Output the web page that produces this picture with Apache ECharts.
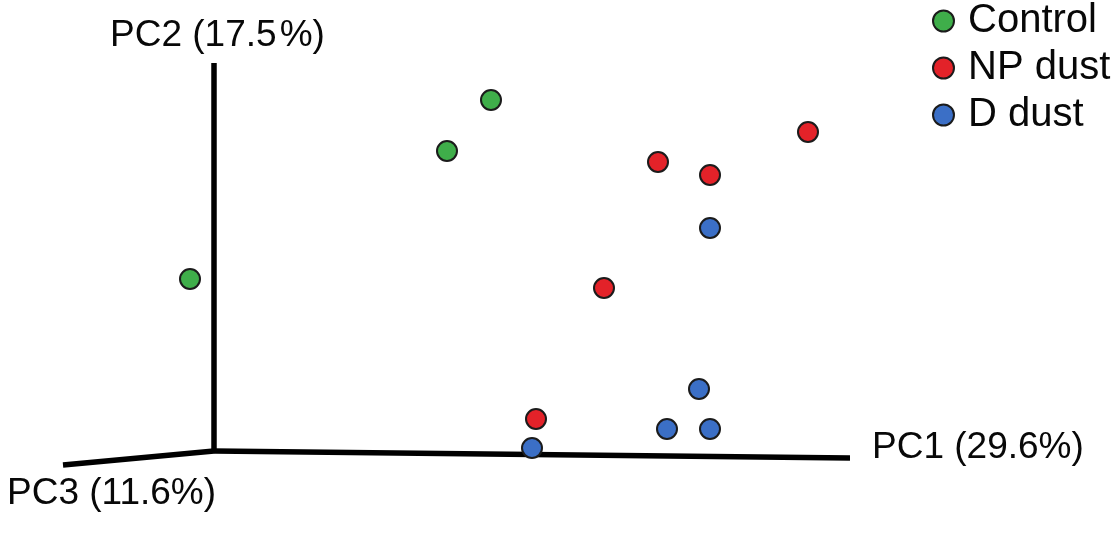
<!DOCTYPE html>
<html>
<head>
<meta charset="utf-8">
<script src="https://cdn.jsdelivr.net/npm/echarts@6/dist/echarts.min.js"></script>
<style>
html,body{margin:0;padding:0;background:#fff;}
#chart{width:1118px;height:544px;}
</style>
</head>
<body>
<div id="chart"></div>
<script>
// Projected PCA coordinates (plot units)
const seriesNames = ['Control', 'NP dust', 'D dust'];
const controlPts = [[491, 100], [447, 151], [190, 279]];
const npDustPts = [[808, 132], [658, 162], [710, 175], [604, 288], [536, 419]];
const dDustPts = [[710, 228], [699, 389], [667, 429], [710, 429], [532, 448]];
// Axis frame (origin and the three axis ends)
const originPt = [214, 451];
const pc1End = [850, 458];
const pc2End = [214, 63];
const pc3End = [63, 465];
const axisLabels = ['PC1 (29.6%)', 'PC2 (17.5\u200A%)', 'PC3 (11.6%)'];

const colors = ['#3fae4a', '#e32229', '#3b6fc6'];
const chart = echarts.init(document.getElementById('chart'));
const font = 'Liberation Sans, Arial, sans-serif';
const labelSize = 37;

function axisSeries(end, label, offset, distance) {
  return {
    type: 'line', silent: true, symbol: 'none', animation: false,
    data: [originPt, end],
    lineStyle: { color: '#000', width: 5.5, cap: 'butt' },
    endLabel: {
      show: true, formatter: label, color: '#080808', fontSize: labelSize,
      fontFamily: font, offset: offset, distance: distance
    },
    z: 1
  };
}

const scatterCommon = {
  type: 'scatter', symbolSize: 20, animation: false,
  itemStyle: { borderColor: '#1b1b1b', borderWidth: 2, opacity: 1 }, z: 5
};

chart.setOption({
  backgroundColor: '#fff',
  grid: { left: 0, right: 0, top: 0, bottom: 0 },
  xAxis: { type: 'value', min: 0, max: 1118, show: false },
  yAxis: { type: 'value', min: 0, max: 544, inverse: true, show: false },
  legend: {
    data: seriesNames, orient: 'vertical', left: 932, top: -2, padding: 0,
    itemWidth: 21, itemHeight: 21, itemGap: 1, icon: 'circle',
    textStyle: { fontSize: 40, lineHeight: 46, fontFamily: font, color: '#080808', padding: [0, 0, 0, 9] },
    itemStyle: { borderColor: '#1b1b1b', borderWidth: 2, opacity: 1 }
  },
  series: [
    axisSeries(pc1End, axisLabels[0], [0, -10], 22),
    axisSeries(pc2End, axisLabels[1], [-109, -27], 5),
    axisSeries(pc3End, axisLabels[2], [-61, 29], 5),
    { ...scatterCommon, name: seriesNames[0], data: controlPts, itemStyle: { ...scatterCommon.itemStyle, color: colors[0] } },
    { ...scatterCommon, name: seriesNames[1], data: npDustPts, itemStyle: { ...scatterCommon.itemStyle, color: colors[1] } },
    { ...scatterCommon, name: seriesNames[2], data: dDustPts, itemStyle: { ...scatterCommon.itemStyle, color: colors[2] } }
  ]
});
</script>
</body>
</html>
